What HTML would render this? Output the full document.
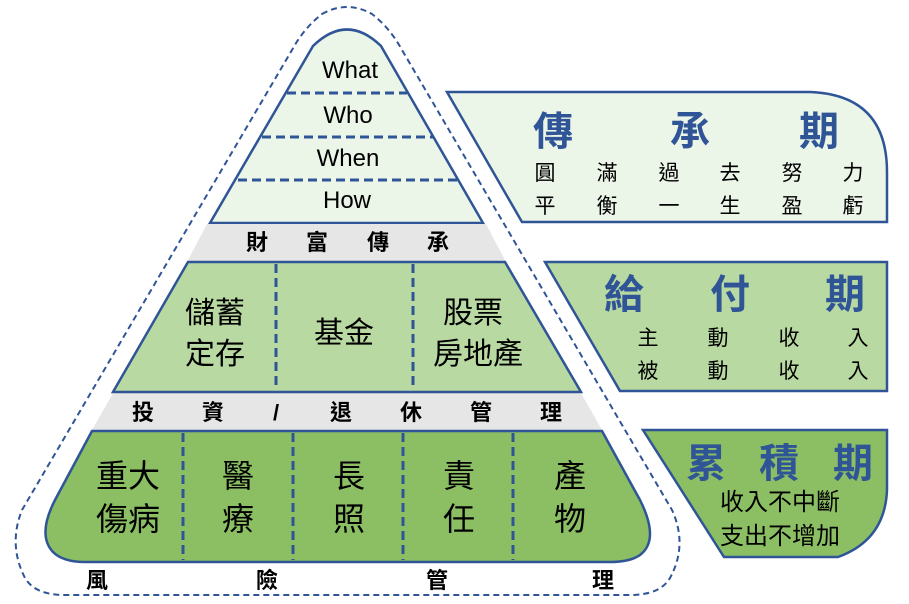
<!DOCTYPE html><html><head><meta charset="utf-8"><style>body{margin:0;background:#fff}svg text{font-family:"Liberation Sans","Noto Sans CJK TC",sans-serif}.k{font-family:"Noto Serif CJK SC","Noto Sans CJK TC",serif}</style></head><body>
<svg width="909" height="599" viewBox="0 0 909 599" xmlns="http://www.w3.org/2000/svg">
<path d="M322,14 Q347,0 372,14 Q390,28 402,50 L672,510 Q688,545 670,578 Q660,595 630,595 L65,595 Q35,595 25,578 Q8,545 22,510 L292,50 Q304,28 322,14 Z" fill="none" stroke="#2f5597" stroke-width="2" stroke-dasharray="6,4"/>
<path d="M210,223 L313,46 Q347,13 381,46 L483,223 Z" fill="#ebf5e8" stroke="#2f5597" stroke-width="2.5"/>
<g stroke="#2f5597" stroke-width="3" stroke-dasharray="9,5"><line x1="287" y1="93" x2="407" y2="93"/><line x1="262" y1="137" x2="433" y2="137"/><line x1="238" y1="180" x2="458" y2="180"/></g>
<path d="M207,224 L486,224 L506,262 L187,262 Z" fill="#e6e6e6"/>
<path d="M113,393 L581,393 L602,430 L92,430 Z" fill="#e6e6e6"/>
<path d="M188,262 L505,262 L581,392 L113,392 Z" fill="#b9d9a2" stroke="#2f5597" stroke-width="2.5"/>
<g stroke="#2f5597" stroke-width="3" stroke-dasharray="9,5"><line x1="276" y1="264" x2="276" y2="390"/><line x1="413" y1="264" x2="413" y2="390"/></g>
<path d="M92,431 L602,431 L640,500 Q660,540 640,555 Q630,562 610,562 L85,562 Q63,562 53,552 Q37,535 55,500 Z" fill="#8cbf64" stroke="#2f5597" stroke-width="2.5"/>
<g stroke="#2f5597" stroke-width="3" stroke-dasharray="9,5"><line x1="183" y1="433" x2="183" y2="560"/><line x1="293" y1="433" x2="293" y2="560"/><line x1="403" y1="433" x2="403" y2="560"/><line x1="513" y1="433" x2="513" y2="560"/></g>
<path d="M447,92 L810,92 Q887,95 887,172 L887,222 L522,222 Z" fill="#ebf5e8" stroke="#2f5597" stroke-width="2.5"/>
<path d="M545,262 L887,262 L887,391 L620,391 Z" fill="#b9d9a2" stroke="#2f5597" stroke-width="2.5"/>
<path d="M643,430 L887,430 L887,490 Q885,540 838,557 L724,557 Z" fill="#8cbf64" stroke="#2f5597" stroke-width="2.5"/>
<g font-size="24" fill="#000" text-anchor="middle"><text x="350" y="78">What</text><text x="348" y="123">Who</text><text x="348" y="166">When</text><text x="347" y="208">How</text></g>
<g class="k" font-size="22" font-weight="bold" text-anchor="middle" fill="#000"><text x="257" y="250">財</text><text x="317" y="250">富</text><text x="378" y="250">傳</text><text x="438" y="250">承</text>
<text x="143" y="420">投</text><text x="213" y="420">資</text><text x="276" y="420">/</text><text x="341" y="420">退</text><text x="411" y="420">休</text><text x="481" y="420">管</text><text x="551" y="420">理</text>
<text x="97" y="588">風</text><text x="267" y="588">險</text><text x="437" y="588">管</text><text x="603" y="588">理</text></g>
<g class="k" font-size="30" text-anchor="middle" fill="#000"><text x="215" y="323">儲蓄</text><text x="215" y="364">定存</text><text x="344" y="343">基金</text><text x="473" y="323">股票</text><text x="478" y="364">房地產</text></g>
<g class="k" font-size="32" text-anchor="middle" fill="#000"><text x="128" y="487">重大</text><text x="128" y="530">傷病</text><text x="238" y="487">醫</text><text x="238" y="530">療</text><text x="349" y="487">長</text><text x="349" y="530">照</text><text x="459" y="487">責</text><text x="459" y="530">任</text><text x="570" y="487">產</text><text x="570" y="530">物</text></g>
<g class="k" font-size="40" font-weight="bold" fill="#2f5597" text-anchor="middle"><text x="553" y="145">傳</text><text x="690" y="145">承</text><text x="819" y="145">期</text>
<text x="624" y="308">給</text><text x="730" y="308">付</text><text x="845" y="308">期</text>
<text x="706" y="477">累</text><text x="779" y="477">積</text><text x="853" y="477">期</text></g>
<g class="k" font-size="21" fill="#000" text-anchor="middle"><text x="545" y="180">圓</text><text x="607" y="180">滿</text><text x="669" y="180">過</text><text x="730" y="180">去</text><text x="792" y="180">努</text><text x="853" y="180">力</text>
<text x="545" y="213">平</text><text x="607" y="213">衡</text><text x="669" y="213">一</text><text x="730" y="213">生</text><text x="792" y="213">盈</text><text x="853" y="213">虧</text>
<text x="648" y="345">主</text><text x="718" y="345">動</text><text x="789" y="345">收</text><text x="858" y="345">入</text>
<text x="648" y="378">被</text><text x="718" y="378">動</text><text x="789" y="378">收</text><text x="858" y="378">入</text></g>
<g class="k" font-size="24" fill="#000" text-anchor="middle"><text x="780" y="510">收入不中斷</text><text x="780" y="544">支出不增加</text></g>
</svg></body></html>
